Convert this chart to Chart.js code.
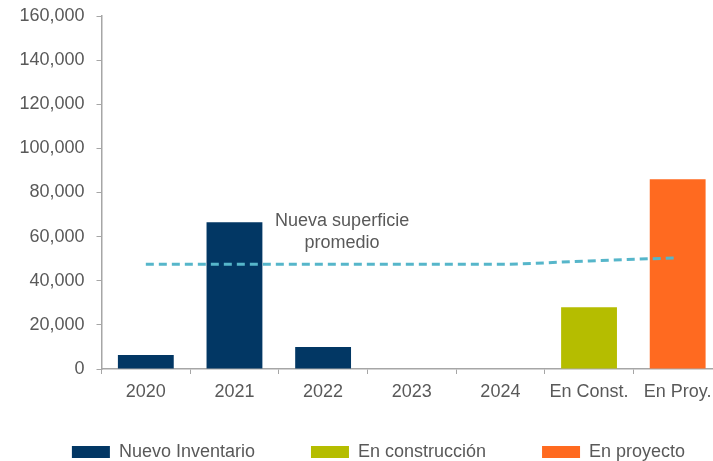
<!DOCTYPE html>
<html>
<head>
<meta charset="utf-8">
<script src="https://cdn.jsdelivr.net/npm/chart.js@4/dist/chart.umd.min.js"></script>
<style>
  body { margin: 0; overflow: hidden; background: #fff; }
  #wrap { width: 713px; height: 461px; overflow: hidden; }
</style>
</head>
<body>
<div id="wrap"><canvas id="superficie" width="735" height="461"></canvas></div>
<script>
// categories and values
const categories = ['2020', '2021', '2022', '2023', '2024', 'En Const.', 'En Proy.']
const nuevoInventario = [6300, 66500, 10000, null, null, null, null]
const enConstruccion = [null, null, null, null, null, 28000, null]
const enProyecto = [null, null, null, null, null, null, 86000]
const superficiePromedio = [47500, 47500, 47500, 47500, 47500, 49000, 50400]
const yTicks = [0, 20000, 40000, 60000, 80000, 100000, 120000, 140000, 160000]
const noteLines = ['Nueva superficie', 'promedio']

const textGrey = '#595959'
const axisGrey = '#a6a6a6'
const font = { family: '"Liberation Sans", Arial, sans-serif', size: 18 }

// legend: one row with wide gaps, short in the layout, then placed low
const legendPlace = {
  id: 'legendPlace',
  beforeInit(chart) {
    const fit = chart.legend.fit
    chart.legend.fit = function () {
      this.maxWidth = 900
      fit.bind(chart.legend)()
      this.height = 60
    }
  },
  afterLayout(chart) {
    chart.legend.top = 387
    chart.legend.left = -23
    chart.legend.right = 780
  }
}

// text note above the dashed line
const lineNote = {
  id: 'lineNote',
  afterDatasetsDraw(chart) {
    const { ctx, scales } = chart
    const x = scales.x.getPixelForValue(2) + 19
    ctx.save()
    ctx.fillStyle = textGrey
    ctx.font = '18px "Liberation Sans", Arial, sans-serif'
    ctx.textAlign = 'center'
    ctx.textBaseline = 'middle'
    ctx.fillText(noteLines[0], x, scales.y.getPixelForValue(67000))
    ctx.fillText(noteLines[1], x, scales.y.getPixelForValue(57000))
    ctx.restore()
  }
}

const sctx = document.getElementById('superficie').getContext('2d')
const superficie = new Chart(sctx, {
  type: 'bar',
  data: {
    labels: categories,
    datasets: [
      {
        type: 'line',
        label: 'Nueva superficie promedio',
        data: superficiePromedio,
        borderColor: '#56b6ca',
        borderWidth: 3,
        borderDash: [8, 5],
        pointRadius: 0,
        cubicInterpolationMode: 'monotone',
        fill: false,
        order: 0
      },
      { label: 'Nuevo Inventario', data: nuevoInventario, backgroundColor: '#023764', order: 1 },
      { label: 'En construcción', data: enConstruccion, backgroundColor: '#b5bd00', order: 1 },
      { label: 'En proyecto', data: enProyecto, backgroundColor: '#ff6a20', order: 1 }
    ]
  },
  options: {
    responsive: false,
    animation: false,
    devicePixelRatio: 1,
    datasets: { bar: { barPercentage: 0.63, categoryPercentage: 1 } },
    layout: { padding: { left: 0, right: 13, top: 16, bottom: 0 } },
    scales: {
      x: {
        stacked: true,
        afterFit: (scale) => { scale.height = 32 },
        grid: { display: true, drawOnChartArea: false, tickLength: 5, color: axisGrey, offset: true },
        border: { display: true, color: axisGrey, width: 1.5 },
        ticks: { color: textGrey, font: font, padding: 7, maxRotation: 0, autoSkip: false }
      },
      y: {
        min: 0,
        max: 160000,
        afterFit: (scale) => {
          scale.width = 101.5
          scale.paddingTop = 0
          scale.paddingBottom = 0
        },
        afterBuildTicks: (scale) => { scale.ticks = yTicks.map(v => ({ value: v })) },
        grid: { display: true, drawOnChartArea: false, tickLength: 5, color: axisGrey },
        border: { display: true, color: axisGrey, width: 1.5 },
        ticks: {
          color: textGrey,
          font: font,
          padding: 12,
          callback: (v) => v.toLocaleString('en-US')
        }
      }
    },
    plugins: {
      legend: {
        position: 'bottom',
        labels: {
          color: textGrey,
          font: font,
          boxWidth: 38,
          boxHeight: 12,
          padding: 56,
          filter: (item) => item.datasetIndex !== 0
        }
      },
      tooltip: { enabled: false }
    }
  },
  plugins: [legendPlace, lineNote]
})
</script>
</body>
</html>
